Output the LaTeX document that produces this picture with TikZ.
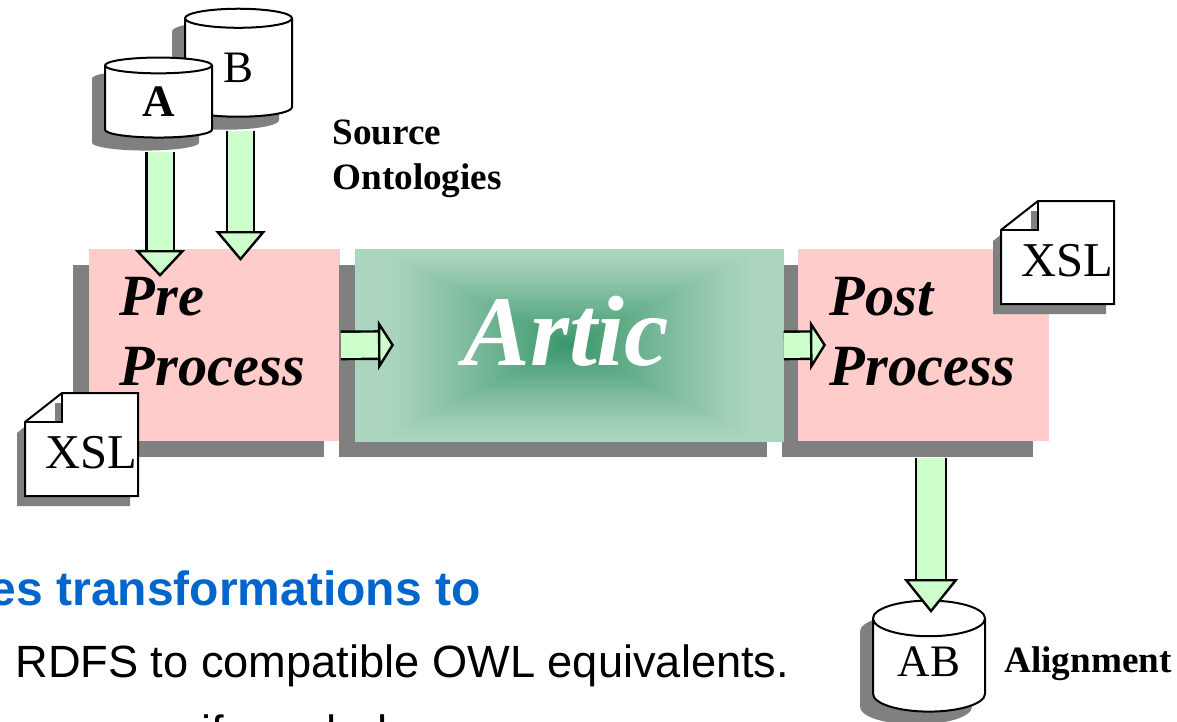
\documentclass[tikz,border=0pt]{standalone}
\usepackage{fontspec}
\setmainfont{Liberation Serif}
\setsansfont{Liberation Sans}
\usepackage{tikz}
\usetikzlibrary{arrows.meta,shapes.geometric,shadows}
\definecolor{shadowgray}{HTML}{808080}
\definecolor{rosy}{HTML}{FFCCCC}
\definecolor{mint}{HTML}{CCFFCC}
\definecolor{articlight}{HTML}{ACD5BF}
\definecolor{articdark}{HTML}{38966A}
\definecolor{headblue}{HTML}{0066CC}

\begin{document}
\begin{tikzpicture}[x=0.5pt,y=-0.5pt,
    box/.style={fill=rosy,anchor=north west,minimum width=125.5pt,minimum height=96pt,inner sep=0pt,
      general shadow={fill=shadowgray,shadow xshift=-8pt,shadow yshift=-8pt}},
    db/.style={cylinder,draw=black,line width=1pt,shape border rotate=90,fill=white,inner sep=0pt,
      font=\fontsize{22.5}{27}\selectfont,
      general shadow={fill=shadowgray,shadow xshift=-6.5pt,shadow yshift=-6.5pt}},
    ar/.style={draw=black,line width=1.2pt,double=mint,double distance=12.5pt,
      -{Triangle[length=#1,width=25pt,line width=1.2pt,fill=mint]}},
    ar/.default=15pt,
    arwide/.style={draw=black,line width=1.2pt,double=mint,double distance=14pt,
      -{Triangle[length=#1,width=27pt,line width=1.2pt,fill=mint]}},
    lab/.style={font=\fontsize{18.6}{22.5}\selectfont\bfseries,anchor=base west,inner sep=0pt},
    big/.style={font=\fontsize{29.2}{35}\selectfont\bfseries\itshape,anchor=base west,inner sep=0pt},
    txt/.style={font=\fontsize{22.6}{27}\selectfont\sffamily,anchor=base west,inner sep=0pt},
    xslnote/.pic={
      \fill[shadowgray] (-8,40) -- (29,10) -- (105,10) -- (105,113) -- (-8,113) -- cycle;
      \draw[fill=white,line width=1pt] (37,0) -- (113,0) -- (113,103) -- (0,103) -- (0,29) -- cycle;
      \fill[shadowgray] (30,10) rectangle (37,29);
      \draw[line width=1pt] (0,29) -- (37,29) -- (37,0);
      \node[font=\fontsize{24.3}{28}\selectfont,anchor=base west,inner sep=0pt] (-label) at (20,75) {XSL};
    }]
  \useasboundingbox (0,0) rectangle (1177,722);

  \node[box] (pre) at (89,249) {};
  \node[box,minimum width=214pt] (artic) at (355,249) {};
  \node[box] (post) at (798,249) {};

  \fill[articlight] (artic.north west) rectangle (artic.south east);
  \foreach \t in {100,99,...,1}{
    \pgfmathsetmacro{\mixval}{100*(1-\t/100)^1.15}
    \fill[articdark!\mixval!articlight] (569-1.85*\t,345-0.93*\t) rectangle (569+1.85*\t,345+0.93*\t);
  }

  \node[db,minimum width=53.5pt,minimum height=54pt,aspect=0.635] (dbb) at (238.5,68) {B};
  \node[db,minimum width=53.5pt,minimum height=40pt,aspect=0.486,font=\fontsize{22.5}{27}\selectfont\bfseries] (dba) at (158.5,102) {A};
  \node[db,minimum width=56pt,minimum height=55.5pt,aspect=0.57,text depth=4pt] (dbab) at (929,665.5) {AB};

  \coordinate (tipa) at (160,277);
  \coordinate (tipb) at (240.5,261);
  \coordinate (tipartic) at (394,345);
  \coordinate (tippost) at (826,345);
  \coordinate (tipab) at (931,613);

  \draw[ar=13.5pt] ([yshift=-6.5pt]tipa |- dba.south) -- (tipa);
  \draw[ar] ([yshift=-6.5pt]tipb |- dbb.south) -- (tipb);
  \draw[ar=8pt] (pre.east) -- (tipartic);
  \draw[ar=8pt] (artic.east) -- (tippost);
  \draw[arwide=17pt] ([yshift=-8pt]tipab |- post.south) -- (tipab);

  \node[big] (pretop) at (119.5,315) {Pre};
  \node[big] (prebot) at (119.5,385) {Process};
  \node[big] (posttop) at (829.5,315) {Post};
  \node[big] (postbot) at (829.5,385) {Process};
  \node[big,white,font=\fontsize{50}{60}\selectfont\bfseries\itshape] (articlabel) at (463,365) {Artic};

  \pic (xslpre) at (25,393) {xslnote};
  \pic (xslpost) at (1001,201) {xslnote};

  \node[lab] (srctop) at (332,144) {Source};
  \node[lab] (srcbot) at (332,189) {Ontologies};
  \node[lab] (align) at (1004,672) {Alignment};

  \node[txt,anchor=base east,headblue,font=\fontsize{24}{29}\selectfont\sffamily\bfseries] (headline) at (481,605) {es transformations to};
  \node[txt] (lineone) at (15,677) {RDFS to compatible OWL equivalents.};
  \node[txt] (linetwo) at (201,747) {if needed.};
\end{tikzpicture}
\end{document}
